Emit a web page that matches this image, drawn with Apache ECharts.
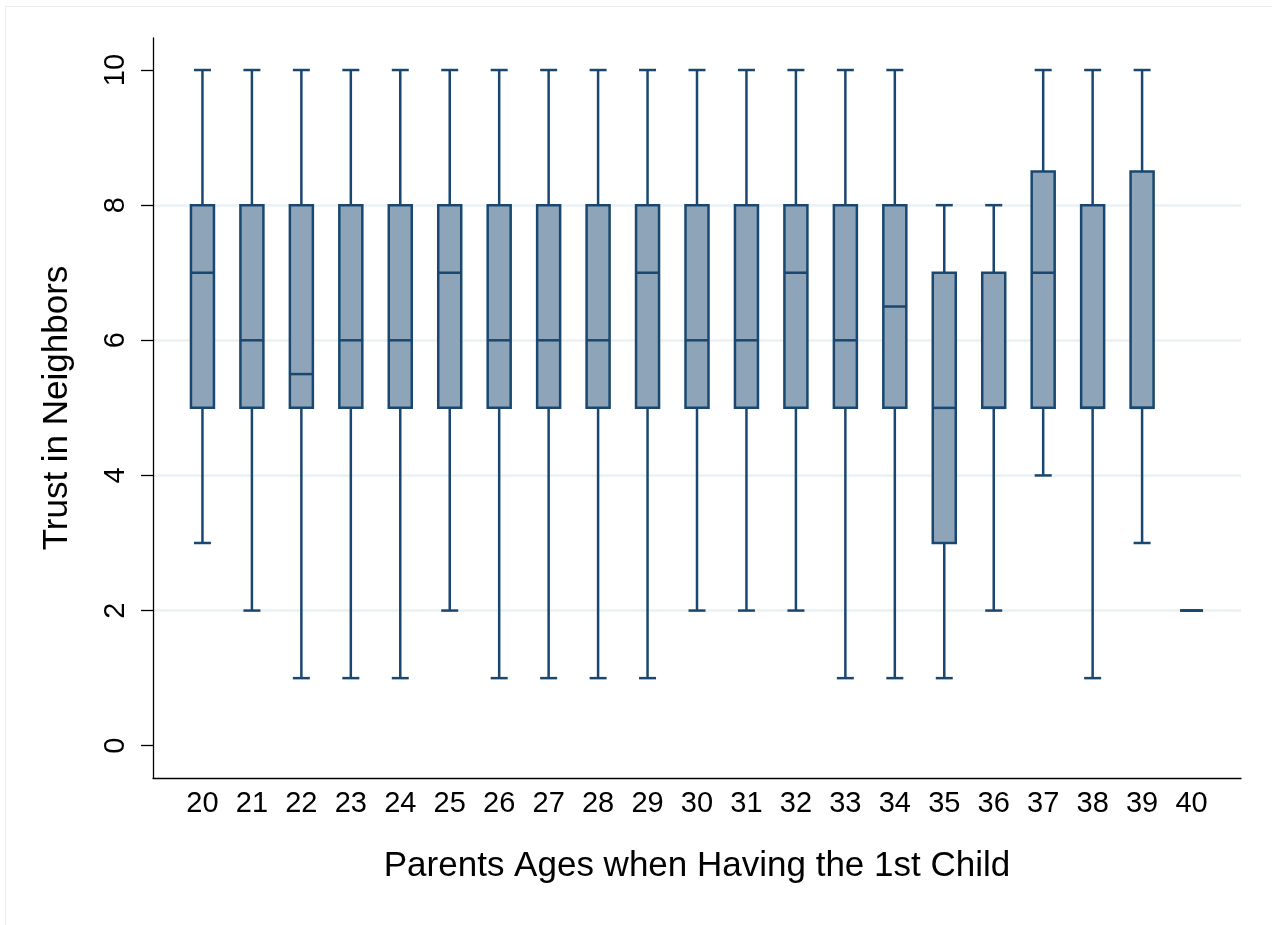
<!DOCTYPE html>
<html>
<head>
<meta charset="utf-8">
<script src="https://cdn.jsdelivr.net/npm/echarts@6/dist/echarts.min.js"></script>
<style>
html,body{margin:0;padding:0;background:#fff;}
#chart{width:1272px;height:925px;}
</style>
</head>
<body>
<div id="chart"></div>
<script>
// Parents' age at first child (categories)
const categories = [20,21,22,23,24,25,26,27,28,29,30,31,32,33,34,35,36,37,38,39,40];
// Box plot statistics per category
const whiskerLow  = [3,2,1,1,1,2,1,1,1,1,2,2,2,1,1,1,2,4,1,3,2];
const quartile1   = [5,5,5,5,5,5,5,5,5,5,5,5,5,5,5,3,5,5,5,5,2];
const medians     = [7,6,5.5,6,6,7,6,6,6,7,6,6,7,6,6.5,5,5,7,5,5,2];
const quartile3   = [8,8,8,8,8,8,8,8,8,8,8,8,8,8,8,7,7,8.5,8,8.5,2];
const whiskerHigh = [10,10,10,10,10,10,10,10,10,10,10,10,10,10,10,8,8,10,10,10,2];
const yTicks = [0,2,4,6,8,10];

const NAVY = '#1a476f';
const FILL = '#8ea5b9';
const FONT = '"Liberation Sans", Arial, sans-serif';

const data = categories.map((c,i)=>[c, whiskerLow[i], quartile1[i], medians[i], quartile3[i], whiskerHigh[i]]);

const chart = echarts.init(document.getElementById('chart'));
chart.setOption({
  backgroundColor: '#ffffff',
  animation: false,
  graphic: [{
    type: 'rect', silent: true, z: -10,
    shape: {x: 5.5, y: 6.5, width: 1400, height: 1000},
    style: {fill: 'none', stroke: '#e6ecee', lineWidth: 1}
  }],
  grid: {left: 153, right: 31, top: 38, bottom: 147, containLabel: false},
  xAxis: {
    type: 'value', min: 19, max: 41, interval: 1,
    name: 'Parents Ages when Having the 1st Child',
    nameLocation: 'middle', nameGap: 71,
    nameTextStyle: {fontFamily: FONT, fontSize: 35, color: '#000'},
    axisLine: {show: true, onZero: false, lineStyle: {color: '#000', width: 1.3}},
    axisTick: {show: false},
    splitLine: {show: false},
    axisLabel: {
      fontFamily: FONT, fontSize: 29, color: '#000', margin: 11,
      showMinLabel: false, showMaxLabel: false,
      formatter: v => (v >= categories[0] && v <= categories[categories.length-1]) ? String(v) : ''
    }
  },
  yAxis: {
    type: 'value', min: -0.478, max: 10.474,
    name: 'Trust in Neighbors',
    nameLocation: 'middle', nameGap: 78, nameRotate: 90,
    nameTextStyle: {fontFamily: FONT, fontSize: 35, color: '#000'},
    axisLine: {show: true, onZero: false, lineStyle: {color: '#000', width: 1.3}},
    axisTick: {show: true, inside: false, length: 12, customValues: yTicks, lineStyle: {color: '#000', width: 1.3}},
    axisLabel: {fontFamily: FONT, fontSize: 29, color: '#000', rotate: 90, margin: 23, customValues: yTicks},
    splitLine: {show: true, showMinLine: false, showMaxLine: false, lineStyle: {color: '#eaf1f3', width: 2.5}}
  },
  series: [{
    type: 'custom',
    data: data,
    encode: {x: 0, y: [1,2,3,4,5]},
    clip: false,
    renderItem: function(params, api) {
      const x = api.value(0);
      const lo = api.coord([x, api.value(1)]);
      const q1 = api.coord([x, api.value(2)]);
      const md = api.coord([x, api.value(3)]);
      const q3 = api.coord([x, api.value(4)]);
      const hi = api.coord([x, api.value(5)]);
      const cx = lo[0];
      const bw = 23, cw = 17, lw = 2.5;
      const ls = {stroke: NAVY, lineWidth: lw, fill: null};
      return {
        type: 'group',
        children: [
          {type: 'line', shape: {x1: cx, y1: lo[1], x2: cx, y2: q1[1]}, style: ls},
          {type: 'line', shape: {x1: cx, y1: q3[1], x2: cx, y2: hi[1]}, style: ls},
          {type: 'line', shape: {x1: cx - cw/2, y1: lo[1], x2: cx + cw/2, y2: lo[1]}, style: ls},
          {type: 'line', shape: {x1: cx - cw/2, y1: hi[1], x2: cx + cw/2, y2: hi[1]}, style: ls},
          {type: 'rect', shape: {x: cx - bw/2, y: q3[1], width: bw, height: q1[1] - q3[1]},
           style: {fill: FILL, stroke: NAVY, lineWidth: lw}},
          {type: 'line', shape: {x1: cx - bw/2, y1: md[1], x2: cx + bw/2, y2: md[1]}, style: ls}
        ]
      };
    }
  }]
});
</script>
</body>
</html>
